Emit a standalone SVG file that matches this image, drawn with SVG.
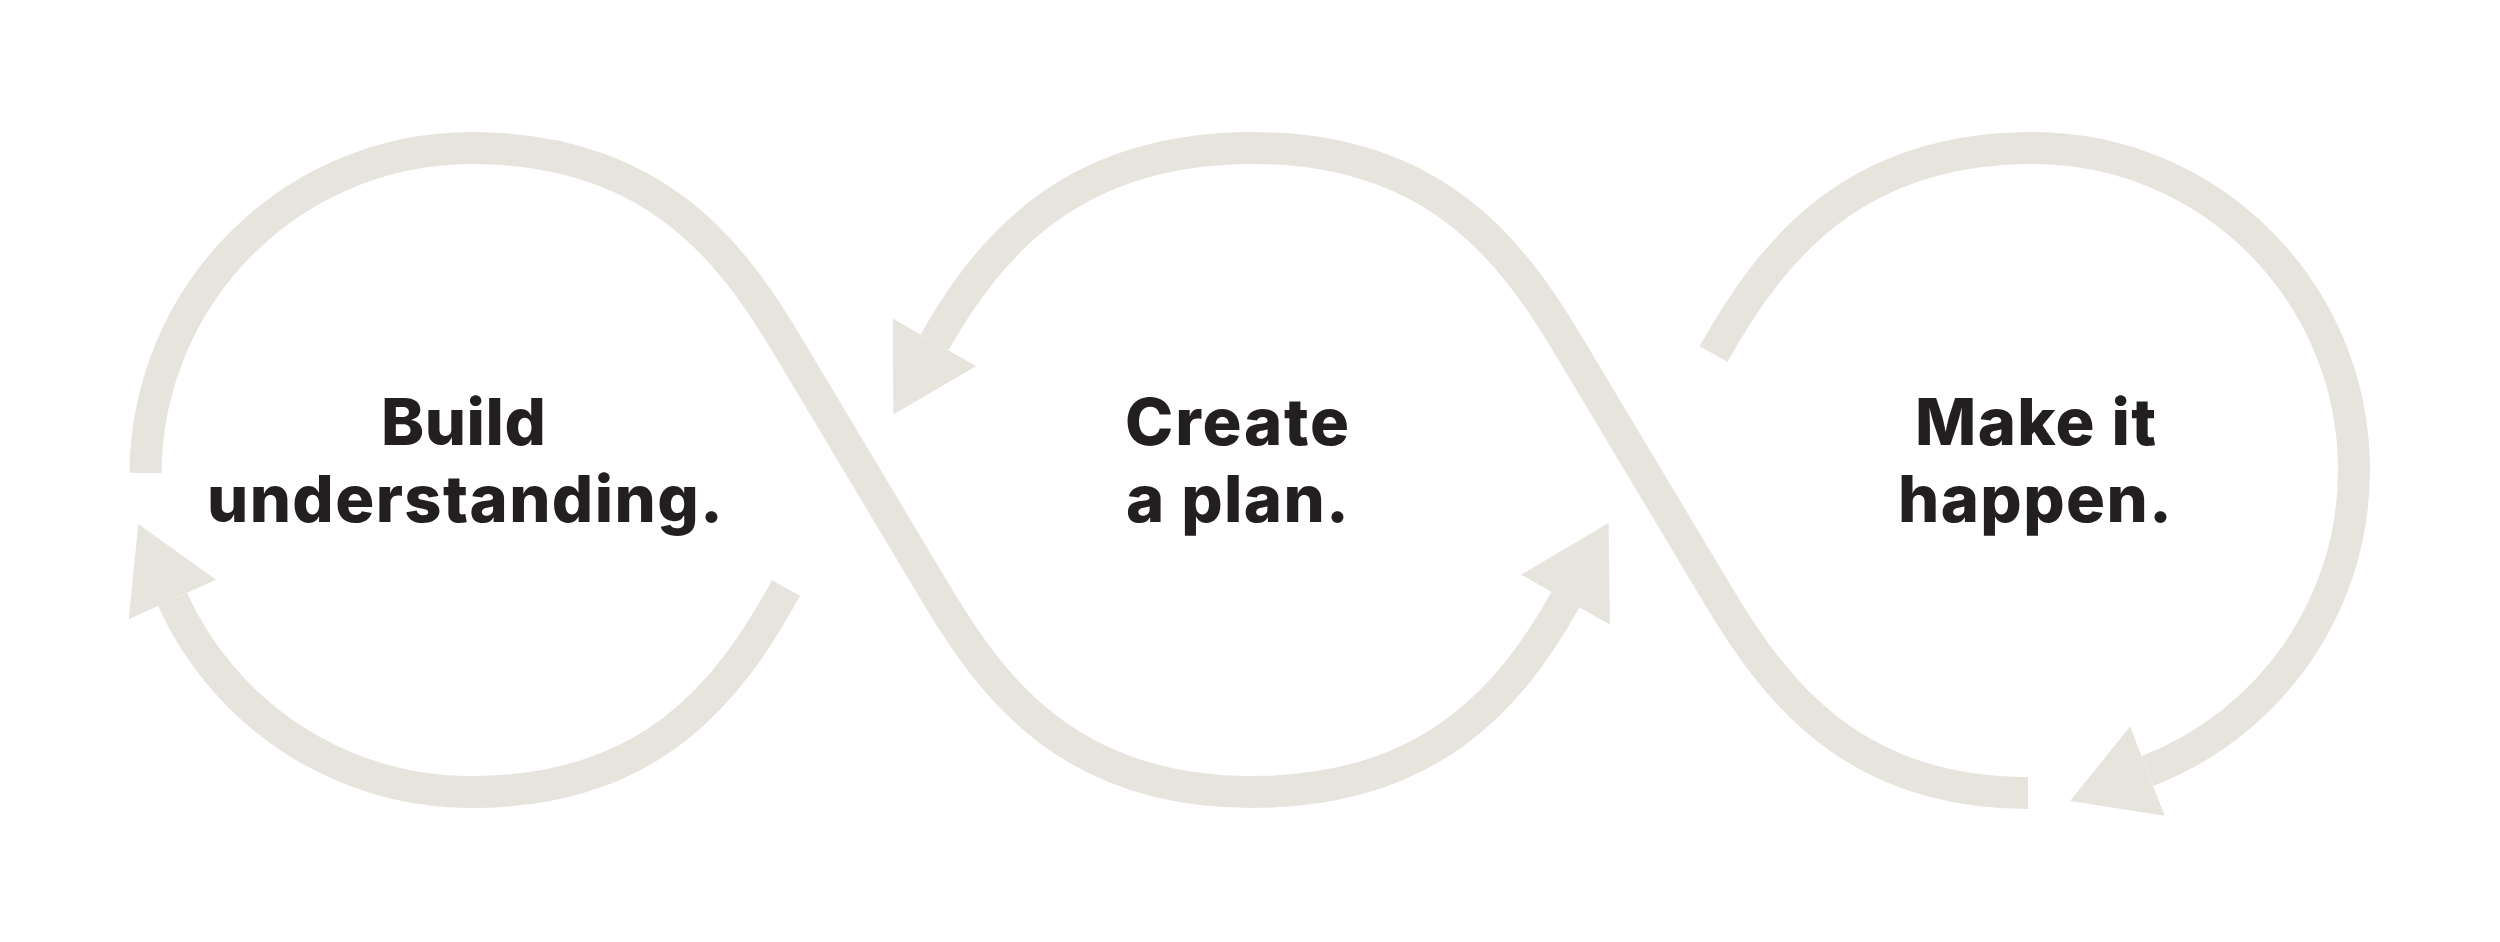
<svg xmlns="http://www.w3.org/2000/svg" width="2500" height="942" viewBox="0 0 2500 942">
  <style>
    .flow { fill: none; stroke: #e7e4dd; stroke-width: 32; stroke-linecap: butt; stroke-linejoin: round; }
    .head { fill: #e7e4dd; stroke: none; }
    .label { font-family: Inter, "Liberation Sans", sans-serif; font-weight: 800; font-size: 65px; fill: #231f20; }
  </style>
  <defs>
    <marker id="arrow" markerUnits="userSpaceOnUse" markerWidth="90" markerHeight="100" viewBox="0 -50 90 100" refX="0" refY="0" orient="auto">
      <polygon class="head" points="0,-48 83,0 0,48"/>
    </marker>
    <marker id="arrowL" markerUnits="userSpaceOnUse" markerWidth="95" markerHeight="106" viewBox="0 -53 95 106" refX="0" refY="0" orient="auto">
      <polygon class="head" points="0,-51 88,0 0,51"/>
    </marker>
  </defs>
  <rect width="2500" height="942" fill="#ffffff"/>

  <g id="connectors">
    <path id="flow-a" class="flow" marker-end="url(#arrowL)" d="M 145.5,473 C 147,293 292,148 472,148 C 652,148 729.5,248.7 786,343 L 938,597 C 994.5,691.3 1072,792 1252,792 C 1432,792 1512,695 1565.5,599.7"/>
    <path id="flow-b" class="flow" marker-end="url(#arrow)" d="M 786,588 C 729.5,691.3 652,792 472,792 C 338,792 224,713 172.5,599.5"/>
    <path id="flow-c" class="flow" marker-end="url(#arrow)" d="M 2028,793 C 1853,793 1775.5,691.3 1719,597 L 1567,343 C 1510.5,248.7 1433,148 1253,148 C 1072,148 990,245 934.5,342.3"/>
    <path id="flow-d" class="flow" marker-end="url(#arrow)" d="M 1713.5,354 C 1772,250 1853,148 2033,148 C 2210,148 2354,292 2354,470 C 2354,607 2269,724 2147.5,771"/>
  </g>

  <g id="node-build">
    <text class="label" x="381" y="445" textLength="165" lengthAdjust="spacing">Build</text>
    <text class="label" x="207" y="522" textLength="516" lengthAdjust="spacing">understanding.</text>
  </g>
  <g id="node-plan">
    <text class="label" x="1125" y="445" textLength="224" lengthAdjust="spacing">Create</text>
    <text class="label" x="1126" y="522" textLength="223" lengthAdjust="spacing">a plan.</text>
  </g>
  <g id="node-make">
    <text class="label" x="1915" y="445" textLength="241" lengthAdjust="spacing">Make it</text>
    <text class="label" x="1898" y="522" textLength="274" lengthAdjust="spacing">happen.</text>
  </g>
</svg>
